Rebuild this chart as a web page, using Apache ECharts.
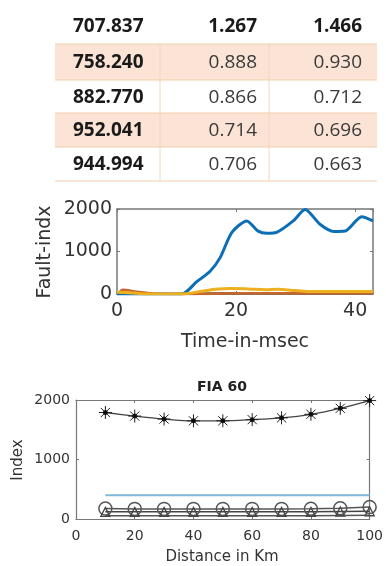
<!DOCTYPE html>
<html><head><meta charset="utf-8">
<script src="https://cdn.jsdelivr.net/npm/echarts@6/dist/echarts.min.js"></script>
<style>html,body{margin:0;padding:0;background:#fff}#c{width:386px;height:566px}</style>
</head><body><div id="c"></div>
<script>
// ---- table data ----
const tableCol1 = ['707.837', '758.240', '882.770', '952.041', '944.994'];
const tableCol2 = ['1.267', '0.888', '0.866', '0.714', '0.706'];
const tableCol3 = ['1.466', '0.930', '0.712', '0.696', '0.663'];

// ---- chart 1: Fault-indx vs Time-in-msec ----
const blueT = [0, 5, 10.9, 13.4, 15.6, 17.3, 19.3, 21.8, 23.7, 25.2, 26.8, 29.6, 31.6, 34.1, 36.4, 38.3, 41.1, 43];
const blueV = [0, 0, 0, 290, 530, 850, 1450, 1720, 1480, 1430, 1450, 1720, 1990, 1640, 1470, 1480, 1820, 1720];
const orangeT = [0.5, 1, 3, 6, 11, 20, 30, 43];
const orangeV = [60, 100, 60, 10, 0, 15, 20, 20];
const yellowT = [0, 2, 5, 8, 11, 14, 17, 19, 22, 25, 27, 30, 33, 36, 40, 43];
const yellowV = [40, 30, 0, 0, 0, 60, 120, 130, 120, 100, 110, 80, 60, 60, 60, 60];
const darkT = [11, 20, 30, 43];
const darkV = [0, 20, 15, 20];

// ---- chart 2: FIA 60 ----
const distKm = [10, 20, 30, 40, 50, 60, 70, 80, 90, 100];
const starVals = [1790, 1730, 1680, 1650, 1650, 1670, 1700, 1760, 1860, 1990];
const blueFlat = [400, 400, 400, 400, 400, 400, 400, 400, 400, 400];
const circVals = [175, 170, 170, 170, 170, 170, 170, 172, 180, 200];
const triVals = [120, 120, 120, 120, 120, 120, 120, 120, 125, 130];
const lowVals = [55, 55, 55, 55, 55, 55, 55, 55, 60, 65];

const pairs = (xs, ys) => xs.map((x, i) => [x, ys[i]]);

const chart = echarts.init(document.getElementById('c'), null, {renderer: 'canvas'});

// table graphics
const rowTop = [10, 44, 80, 113, 147];
const rowBot = [44, 80, 113, 147, 181];
const tableLeft = 55, tableRight = 377, colDiv1 = 160, colDiv2 = 269;
const g = [];
const borderC = '#F4D6BE';
for (let r = 0; r < 5; r++) {
  if (r === 1 || r === 3) {
    g.push({type: 'rect', shape: {x: tableLeft, y: rowTop[r], width: tableRight - tableLeft, height: rowBot[r] - rowTop[r]},
      style: {fill: '#FBE4D5'}, silent: true, z: 1});
  }
}
[44, 80, 113, 147, 181].forEach(y => g.push({type: 'line', shape: {x1: tableLeft, y1: y, x2: tableRight, y2: y},
  style: {stroke: '#F2CDAE', lineWidth: 1.2}, z: 2}));
[colDiv1, colDiv2].forEach(x => g.push({type: 'line', shape: {x1: x, y1: 44, x2: x, y2: 181},
  style: {stroke: borderC, lineWidth: 1}, z: 2}));
for (let r = 0; r < 5; r++) {
  const cy = (rowTop[r] + rowBot[r]) / 2 + (r === 0 ? 0 : 1);
  const bold = r === 0;
  g.push({type: 'text', x: 73, y: cy, z: 3, style: {text: tableCol1[r], font: 'bold 19px "Open Sans"', fill: '#1a1a1a', textAlign: 'left', textVerticalAlign: 'middle'}});
  g.push({type: 'text', x: 257, y: cy, z: 3, style: {text: tableCol2[r], font: (bold ? 'bold ' : '') + '19px "Open Sans"', fill: bold ? '#1a1a1a' : '#3a3a3a', textAlign: 'right', textVerticalAlign: 'middle'}});
  g.push({type: 'text', x: 362, y: cy, z: 3, style: {text: tableCol3[r], font: (bold ? 'bold ' : '') + '19px "Open Sans"', fill: bold ? '#1a1a1a' : '#3a3a3a', textAlign: 'right', textVerticalAlign: 'middle'}});
}
// axis names
g.push({type: 'text', x: 45, y: 252, rotation: Math.PI / 2, z: 3,
  style: {text: 'Fault-indx', font: '19px "DejaVu Sans"', fill: '#333', textAlign: 'center', textVerticalAlign: 'middle'}});
g.push({type: 'text', x: 245, y: 342, z: 3,
  style: {text: 'Time-in-msec', font: '19px "DejaVu Sans"', fill: '#333', textAlign: 'center', textVerticalAlign: 'middle'}});
g.push({type: 'text', x: 222, y: 387, z: 3,
  style: {text: 'FIA 60', font: 'bold 14px "DejaVu Sans"', fill: '#222', textAlign: 'center', textVerticalAlign: 'middle'}});
g.push({type: 'text', x: 18, y: 460, rotation: Math.PI / 2, z: 3,
  style: {text: 'Index', font: '15px "DejaVu Sans"', fill: '#333', textAlign: 'center', textVerticalAlign: 'middle'}});
g.push({type: 'text', x: 222, y: 557, z: 3,
  style: {text: 'Distance in Km', font: '15px "DejaVu Sans"', fill: '#333', textAlign: 'center', textVerticalAlign: 'middle'}});

const boxLine = (c, w) => ({show: true, onZero: false, lineStyle: {color: c, width: w}});
const tick = (len, c) => ({show: true, inside: true, length: len, lineStyle: {color: c, width: 1}});

function xAx(grid, min, max, interval, pos, labels, fs, margin, c, w, showMax) {
  return {type: 'value', gridIndex: grid, min, max, interval, position: pos,
    axisLine: boxLine(c, w), axisTick: tick(3, c), splitLine: {show: false},
    axisLabel: {show: labels, fontFamily: 'DejaVu Sans', fontSize: fs, color: '#333', margin, showMaxLabel: showMax,
      formatter: v => (v % interval === 0 ? String(v) : '')}};
}
function yAx(grid, pos, labels, fs, margin, c, w) {
  return {type: 'value', gridIndex: grid, min: 0, max: 2000, interval: 1000, position: pos,
    axisLine: boxLine(c, w), axisTick: tick(3, c), splitLine: {show: false},
    axisLabel: {show: labels, fontFamily: 'DejaVu Sans', fontSize: fs, color: '#333', margin,
      formatter: v => String(v)}};
}

const starPath = 'path://M0,-10L0,10M-10,0L10,0M-7.07,-7.07L7.07,7.07M-7.07,7.07L7.07,-7.07';

chart.setOption({
  animation: false,
  graphic: g,
  grid: [
    {left: 117, top: 209, width: 256, height: 85},
    {left: 76, top: 400, width: 296, height: 119}
  ],
  xAxis: [
    xAx(0, 0, 43, 20, 'bottom', true, 19, 8, '#777', 1.5, false),
    xAx(0, 0, 43, 20, 'top', false, 19, 8, '#777', 1.5, false),
    xAx(1, 0, 100, 20, 'bottom', true, 14, 10, '#777', 1.2, true),
    xAx(1, 0, 100, 20, 'top', false, 14, 10, '#777', 1.2, true)
  ],
  yAxis: [
    yAx(0, 'left', true, 19, 5, '#777', 1.5),
    yAx(0, 'right', false, 19, 5, '#777', 1.5),
    yAx(1, 'left', true, 14, 6, '#777', 1.2),
    yAx(1, 'right', false, 14, 6, '#777', 1.2)
  ],
  series: [
    {type: 'line', xAxisIndex: 0, yAxisIndex: 0, data: pairs(blueT, blueV), smooth: 0.25, showSymbol: false,
      lineStyle: {color: '#0B6FB5', width: 3}},
    {type: 'line', xAxisIndex: 0, yAxisIndex: 0, data: pairs(darkT, darkV), smooth: 0.3, showSymbol: false,
      lineStyle: {color: '#5b4a2e', width: 2.5}},
    {type: 'line', xAxisIndex: 0, yAxisIndex: 0, data: pairs(orangeT, orangeV), smooth: 0.3, showSymbol: false,
      lineStyle: {color: '#C8672A', width: 2.5}},
    {type: 'line', xAxisIndex: 0, yAxisIndex: 0, data: pairs(yellowT, yellowV), smooth: 0.4, showSymbol: false,
      lineStyle: {color: '#EDB120', width: 3}},

    {type: 'line', xAxisIndex: 2, yAxisIndex: 2, data: pairs(distKm, blueFlat), showSymbol: false,
      lineStyle: {color: '#7FB6DA', width: 2}},
    {type: 'line', xAxisIndex: 2, yAxisIndex: 2, data: pairs(distKm, lowVals), showSymbol: false,
      lineStyle: {color: '#555', width: 1.5}},
    {type: 'line', xAxisIndex: 2, yAxisIndex: 2, data: pairs(distKm, circVals), symbol: 'circle', symbolSize: 13,
      itemStyle: {color: 'rgba(0,0,0,0)', borderColor: '#555', borderWidth: 1.5},
      lineStyle: {color: '#555', width: 1.5}},
    {type: 'line', xAxisIndex: 2, yAxisIndex: 2, data: pairs(distKm, triVals), symbol: 'triangle', symbolSize: 9,
      itemStyle: {color: 'rgba(0,0,0,0)', borderColor: '#444', borderWidth: 1.3},
      lineStyle: {color: '#444', width: 1.5}},
    {type: 'line', xAxisIndex: 2, yAxisIndex: 2, data: pairs(distKm, starVals), smooth: 0.3, symbol: starPath, symbolSize: 13,
      itemStyle: {color: '#111', borderColor: '#222', borderWidth: 1},
      lineStyle: {color: '#444', width: 1.3}},
    {type: 'scatter', xAxisIndex: 2, yAxisIndex: 2, data: pairs(distKm, starVals), symbol: 'circle', symbolSize: 5,
      itemStyle: {color: '#000'}, z: 5}
  ]
});
</script></body></html>
